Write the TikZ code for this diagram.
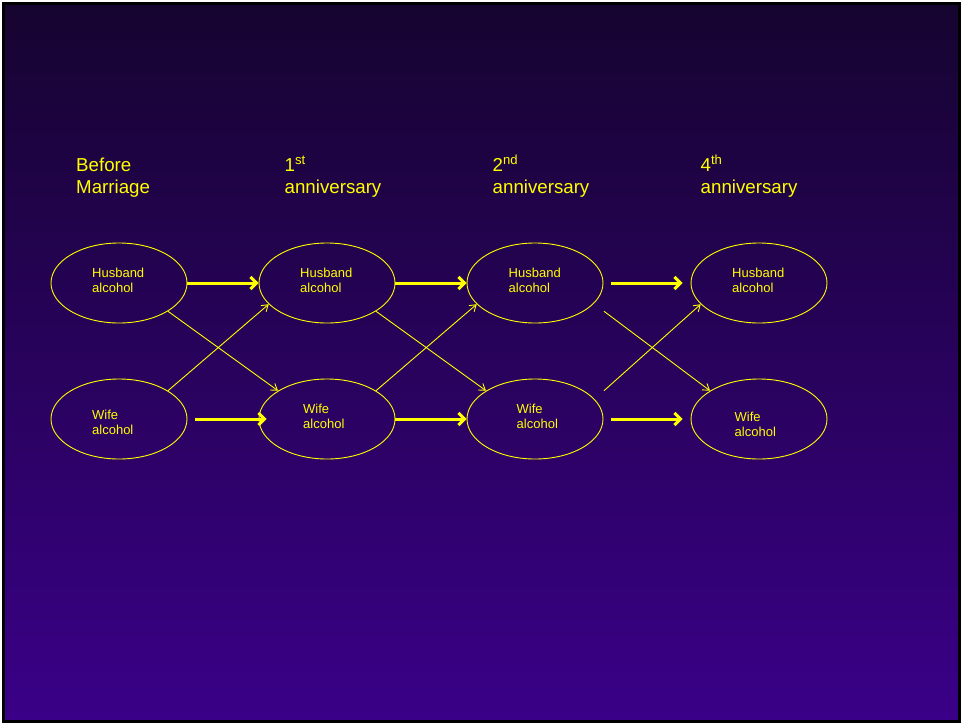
\documentclass[tikz,border=0pt]{standalone}
\usepackage{fontspec}
\setmainfont{Liberation Sans}
\usetikzlibrary{shapes.geometric,arrows.meta}
\definecolor{bgtop}{RGB}{22,4,48}
\definecolor{bgbottom}{RGB}{58,0,136}
\definecolor{gold}{RGB}{255,255,0}
\tikzset{
    oval/.style ={
        shape=ellipse,
        draw=gold,
        line width=0.9pt,
        minimum width=136pt,
        minimum height=80pt,
        inner sep=0pt
    },
    cell/.style ={
        anchor=base west,
        align=left,
        inner sep=0pt,
        text=gold,
        font=\fontsize{13}{15.5}\selectfont
    },
    heading/.style ={
        anchor=base west,
        align=left,
        inner sep=0pt,
        text=gold,
        font=\fontsize{18.7}{22.5}\selectfont
    },
    heavy/.style ={-{Straight Barb[length=6pt,width=12pt]}, draw=gold, line width=3pt},
    light/.style ={-{Straight Barb[length=6pt,width=8pt]}, draw=gold, line width=0.9pt}
}

\begin{document}
\begin{tikzpicture}[x=1pt,y=-1pt]
    \useasboundingbox (0,0) rectangle (961,723);
    \fill[white] (0,0) rectangle (961,723);
    \draw[draw=black, line width=3pt, top color=bgtop, bottom color=bgbottom] (3.5,3.5) rectangle (959.5,721.5);
    \node[heading] (before) at(76,193.5) {Before\\Marriage};
    \node[heading] (first) at(284.5,193.5) {1\textsuperscript{st}\\anniversary};
    \node[heading] (second) at(492.5,193.5) {2\textsuperscript{nd}\\anniversary};
    \node[heading] (fourth) at(700.5,193.5) {4\textsuperscript{th}\\anniversary};
    \node[oval] (h0) at(119,283) {};
    \node[oval] (h1) at(327,283) {};
    \node[oval] (h2) at(535,283) {};
    \node[oval] (h3) at(759,283) {};
    \node[oval] (w0) at(119,419) {};
    \node[oval] (w1) at(327,419) {};
    \node[oval] (w2) at(535,419) {};
    \node[oval] (w3) at(759,419) {};
    \node[cell] (th0) at(92,292.5) {Husband\\alcohol};
    \node[cell] (th1) at(300,292.5) {Husband\\alcohol};
    \node[cell] (th2) at(508.5,292.5) {Husband\\alcohol};
    \node[cell] (th3) at(732,292.5) {Husband\\alcohol};
    \node[cell] (tw0) at(92,434.5) {Wife\\alcohol};
    \node[cell] (tw1) at(303,428.5) {Wife\\alcohol};
    \node[cell] (tw2) at(516.5,428.5) {Wife\\alcohol};
    \node[cell] (tw3) at(734.5,436.5) {Wife\\alcohol};
    \draw[heavy] (h0.east) -- (h1.west);
    \draw[heavy] (h1.east) -- (h2.west);
    \draw[heavy] ([xshift=8pt]h2.east) -- ([xshift=-8pt]h3.west);
    \draw[heavy] ([xshift=8pt]w0.east) -- ([xshift=8pt]w1.west);
    \draw[heavy] (w1.east) -- (w2.west);
    \draw[heavy] ([xshift=8pt]w2.east) -- ([xshift=-8pt]w3.west);
    \draw[light] (h0.-30) -- (w1.150);
    \draw[light] (w0.30) -- (h1.200);
    \draw[light] (h1.-30) -- (w2.150);
    \draw[light] (w1.30) -- (h2.200);
    \draw[light] ([xshift=20pt]h2.-30) -- (w3.150);
    \draw[light] ([xshift=20pt]w2.30) -- (h3.200);
\end{tikzpicture}
\end{document}
